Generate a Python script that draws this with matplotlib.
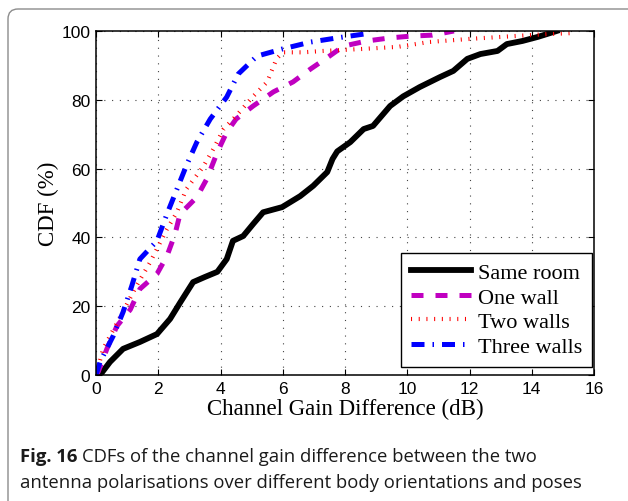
import matplotlib
matplotlib.use("Agg")
import matplotlib.pyplot as plt
from matplotlib.patches import FancyBboxPatch

# CDF curves of channel gain difference (dB vs %)
same_x = [0.13, 0.45, 0.87, 1.41, 1.96, 2.38, 2.7, 3.12, 3.5, 3.9, 4.2, 4.4, 4.73, 5.05,
          5.37, 5.98, 6.56, 6.98, 7.43, 7.6, 7.75, 8.17, 8.6, 8.9, 9.45, 9.87, 10.4, 11.05,
          11.48, 11.93, 12.35, 12.9, 13.2, 13.7, 14.2, 14.8]
same_y = [0, 3.8, 7.6, 9.6, 11.9, 16.3, 21, 27, 28.5, 30, 33.7, 39, 40.4, 43.9,
          47.3, 48.8, 52, 55, 59, 62.8, 65, 67.7, 71.5, 72.4, 78.2, 81, 83.7, 86.6,
          88.4, 91.9, 93.3, 94.2, 96.2, 97.1, 98.3, 100]

one_x = [0.0, 0.07, 0.35, 0.67, 1.1, 1.41, 1.96, 2.28, 2.54, 2.7, 3.24, 3.56, 3.9, 4.2,
         4.5, 5.05, 5.7, 6.33, 6.9, 7.5, 7.95, 8.7, 9.45, 10.1, 10.8, 11.5]
one_y = [0, 0.9, 7.6, 14.2, 19, 25, 29.4, 34.6, 41, 46.8, 51.7, 57, 64.8, 70.6,
         74.4, 78.2, 82.3, 85.2, 89, 92.7, 95.6, 97.1, 98, 98.5, 98.8, 100]

two_x = [0.0, 0.23, 0.9, 1.3, 1.74, 2.28, 2.6, 2.9, 3.44, 3.77, 4.1, 4.5, 5.05, 5.5,
         5.8, 6.0, 6.65, 7.3, 8.6, 9.7, 10.7, 12.0, 13.4, 14.5, 15.3]
two_y = [0, 7.6, 19, 25.9, 32.8, 42.4, 47.3, 54, 60.5, 65.7, 71.5, 75.3, 81, 85.2,
         91.9, 93.8, 93.8, 94.2, 94.8, 95.4, 96.8, 97.7, 98.5, 99.1, 99.4]

three_x = [0.0, 0.13, 0.55, 0.87, 1.15, 1.41, 1.96, 2.28, 2.6, 2.9, 3.24, 3.67, 4.2,
           4.57, 5.17, 6.0, 6.9, 7.75, 8.6, 8.8]
three_y = [0, 3.8, 11.3, 18.3, 25.9, 33.7, 39, 46.8, 54, 60.8, 67.7, 74.4, 80.8,
           87.5, 92.7, 94.8, 96.8, 98, 99.1, 100]

labels = ["Same room", "One wall", "Two walls", "Three walls"]
xticks = list(range(0, 17, 2))
yticks = list(range(0, 101, 20))

serif = "Liberation Serif"
sans = "Liberation Sans"

fig = plt.figure(figsize=(6.28, 5.02), dpi=100)

# grey rounded frame around figure + caption
frame = FancyBboxPatch((0.08, -0.3), 6.6, 5.02 - 0.10 + 0.3,
                       boxstyle="round,pad=0,rounding_size=0.1",
                       transform=fig.dpi_scale_trans, facecolor="none",
                       edgecolor="#8c8c8c", linewidth=1.0)
fig.patches.append(frame)

ax = fig.add_axes([96 / 628, 1 - 376 / 502, 498 / 628, 344 / 502])

ax.plot(same_x, same_y, color="black", lw=4.2, solid_joinstyle="round", label=labels[0])
ax.plot(one_x, one_y, color="#c000c0", lw=3.6, dashes=(2.4, 2.4), label=labels[1])
ax.plot(two_x, two_y, color="#ff0000", lw=3.0, dashes=(0.25, 1.6), label=labels[2])
ax.plot(three_x, three_y, color="#0000ff", lw=3.6, dashes=(2.6, 1.6, 0.3, 1.6), label=labels[3])

ax.set_xlim(0, 16)
ax.set_ylim(0, 100)
ax.set_xticks(xticks)
ax.set_yticks(yticks)
ax.tick_params(direction="in", length=4, width=0.8, top=True, right=True, pad=4)
for lab in ax.get_xticklabels() + ax.get_yticklabels():
    lab.set_fontfamily(sans)
    lab.set_fontsize(12.5)
for sp in ax.spines.values():
    sp.set_linewidth(1.1)
ax.grid(True, color="#444444", linestyle=(0, (1, 6)), linewidth=0.8)

ax.set_xlabel("Channel Gain Difference (dB)", fontfamily=serif, fontsize=16.5, labelpad=2)
ax.set_ylabel("CDF (%)", fontfamily=serif, fontsize=16.5, labelpad=2)

leg = ax.legend(loc="lower right", bbox_to_anchor=(0.996, 0.024), prop={"family": serif, "size": 16},
                fancybox=False, edgecolor="black", framealpha=1, handlelength=2.7,
                handletextpad=0.3, labelspacing=0.18, borderpad=0.45, borderaxespad=0)
leg.get_frame().set_linewidth(1.0)

# caption, bold figure number then the description
cap_font = "Open Sans"
cap_size = 13.3
y1 = 1 - 462 / 502
y2 = 1 - 488 / 502
cap1 = fig.text(20 / 628, y1, "Fig. 16", fontfamily=cap_font, fontweight="bold",
                fontsize=cap_size, color="#1a1a1a", va="baseline")
bb = cap1.get_window_extent(fig.canvas.get_renderer())
fig.text((bb.x1 + 5) / 628, y1, "CDFs of the channel gain difference between the two",
         fontfamily=cap_font, fontsize=cap_size, color="#1a1a1a", va="baseline")
fig.text(20 / 628, y2, "antenna polarisations over different body orientations and poses",
         fontfamily=cap_font, fontsize=cap_size, color="#1a1a1a", va="baseline")

fig.savefig("out.png", dpi=100)
